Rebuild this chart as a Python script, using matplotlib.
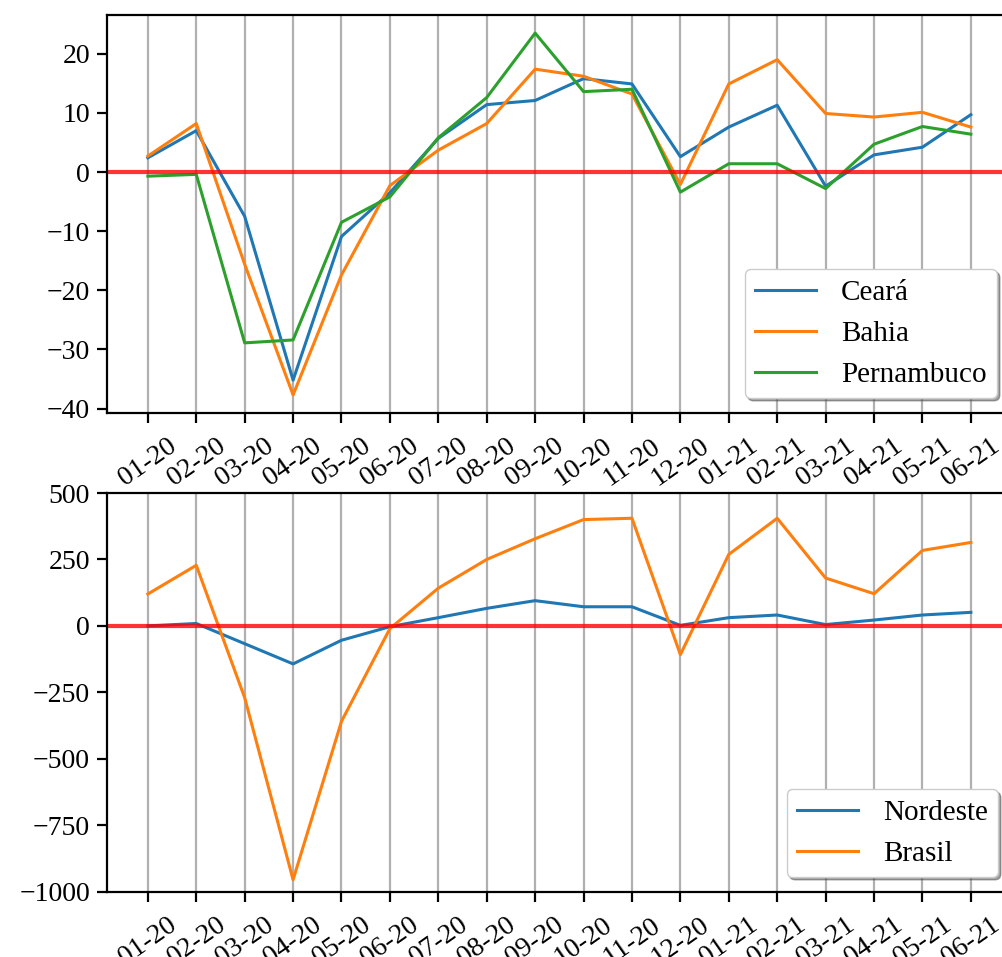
import matplotlib
matplotlib.use("Agg")
import matplotlib.pyplot as plt

plt.rcParams['font.family'] = ['Liberation Serif', 'DejaVu Serif']
plt.rcParams['font.size'] = 20
plt.rcParams['axes.unicode_minus'] = True

months = ["01-20", "02-20", "03-20", "04-20", "05-20", "06-20", "07-20", "08-20", "09-20",
          "10-20", "11-20", "12-20", "01-21", "02-21", "03-21", "04-21", "05-21", "06-21"]

ceara = [2.4, 7.0, -7.5, -35.2, -10.9, -3.5, 5.7, 11.4, 12.1,
         15.8, 14.9, 2.6, 7.6, 11.3, -2.4, 2.9, 4.2, 9.7]
bahia = [2.7, 8.2, -15.6, -37.7, -17.4, -2.3, 3.7, 8.2, 17.4,
         16.2, 13.2, -2.1, 14.9, 19.0, 9.9, 9.3, 10.1, 7.6]
pernambuco = [-0.7, -0.4, -28.9, -28.4, -8.5, -4.2, 5.8, 12.6, 23.5,
              13.6, 14.0, -3.4, 1.4, 1.4, -2.8, 4.7, 7.7, 6.4]

nordeste = [0, 9, -67, -143, -54, -3, 31, 66, 95,
            72, 72, 2, 31, 41, 5, 22, 41, 51]
brasil = [120, 228, -270, -955, -359, -10, 142, 250, 328,
          400, 405, -108, 269, 405, 180, 121, 284, 314]

W, H = 1003, 957
fig = plt.figure(figsize=(W / 100, H / 100), dpi=100)

left = 106.7 / W
width = (1012 - 106.7) / W
ax1 = fig.add_axes([left, (H - 413) / H, width, 398 / H])
ax2 = fig.add_axes([left, (H - 891.7) / H, width, 398.7 / H])

lw = 2.2
x = list(range(len(months)))

ax1.plot(x, ceara, color='#1f77b4', lw=lw, label='Ceará')
ax1.plot(x, bahia, color='#ff7f0e', lw=lw, label='Bahia')
ax1.plot(x, pernambuco, color='#2ca02c', lw=lw, label='Pernambuco')
ax1.axhline(0, color='red', alpha=0.8, lw=3)

ax2.plot(x, nordeste, color='#1f77b4', lw=lw, label='Nordeste')
ax2.plot(x, brasil, color='#ff7f0e', lw=lw, label='Brasil')
ax2.axhline(0, color='red', alpha=0.8, lw=3)
ax2.set_ylim(-1000, 500)
ax2.set_yticks([-1000, -750, -500, -250, 0, 250, 500])

for ax in (ax1, ax2):
    ax.set_xticks(x)
    ax.set_xticklabels(months, rotation=35, ha='center')
    ax.grid(axis='x', color='#b0b0b0', lw=1.6)
    ax.set_axisbelow(True)
    ax.tick_params(length=7, width=1.6)
    ax.tick_params(axis='x', pad=8)
    ax.tick_params(axis='y', pad=5)
    for s in ax.spines.values():
        s.set_linewidth(1.6)

ax1.set_yticks([-40, -30, -20, -10, 0, 10, 20])

leg_kw = dict(loc='lower right', bbox_transform=fig.transFigure, borderaxespad=0,
              shadow=True, handlelength=2.1, handletextpad=0.85, borderpad=0.35,
              fontsize=21)
ax1.legend(bbox_to_anchor=(997 / W, (H - 398) / H), **leg_kw)
ax2.legend(bbox_to_anchor=(998 / W, (H - 877) / H), **leg_kw)

fig.savefig('out.png', dpi=100)
